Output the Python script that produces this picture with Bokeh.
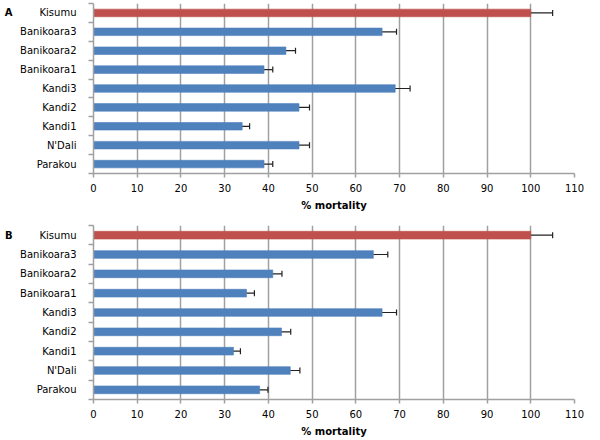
from bokeh.plotting import figure
from bokeh.layouts import column
from bokeh.models import Range1d, FixedTicker, Whisker, ColumnDataSource, LinearAxis
from bokeh.embed import file_html
from bokeh.resources import INLINE

# categories from bottom to top
sites = ["Parakou", "N'Dali", "Kandi1", "Kandi2", "Kandi3",
         "Banikoara1", "Banikoara2", "Banikoara3", "Kisumu"]

# Panel A
mort_a = [39, 47, 34, 47, 69, 39, 44, 66, 100]
err_a = [2.0, 2.4, 1.7, 2.4, 3.4, 2.0, 2.2, 3.3, 5.0]
# Panel B
mort_b = [38, 45, 32, 43, 66, 35, 41, 64, 100]
err_b = [1.9, 2.2, 1.6, 2.1, 3.3, 1.8, 2.1, 3.3, 5.0]

x_ticks = list(range(0, 111, 10))
BLUE = "#4f81bd"
RED = "#c0504d"
GRID = "#a0a0a0"
FONT = "DejaVu Sans"


def make_panel(letter, vals, errs, height, border_top, border_bottom, border_right):
    n = len(sites)
    idx = list(range(n))
    colors = [RED if s == "Kisumu" else BLUE for s in sites]
    src = ColumnDataSource(dict(
        y=idx, v=vals, lo=[v - e for v, e in zip(vals, errs)],
        hi=[v + e for v, e in zip(vals, errs)], c=colors))

    p = figure(width=600, height=height, output_backend="svg", toolbar_location=None,
               x_range=Range1d(0, 110), y_range=Range1d(-0.5, n - 0.5),
               min_border_left=93, min_border_right=border_right,
               min_border_top=border_top, min_border_bottom=border_bottom)
    p.outline_line_color = None
    p.background_fill_color = "white"

    p.hbar(y="y", right="v", left=0, height=0.4, fill_color="c",
           line_color="c", line_alpha=0.6, source=src)
    w = Whisker(source=src, base="y", lower="lo", upper="hi",
                dimension="width", line_color="#222222", line_width=1.2)
    for h in (w.upper_head, w.lower_head):
        h.size = 6
        h.line_color = "#222222"
        h.line_width = 1.2
    p.add_layout(w)

    # x axis
    p.xaxis.ticker = FixedTicker(ticks=x_ticks)
    p.xaxis.axis_line_color = GRID
    p.xaxis.axis_line_width = 1.5
    p.xaxis.major_tick_line_color = GRID
    p.xaxis.major_tick_line_width = 1.5
    p.xaxis.major_tick_out = 4
    p.xaxis.major_tick_in = 0
    p.xaxis.minor_tick_line_color = None
    p.xaxis.major_label_text_font = FONT
    p.xaxis.major_label_text_font_size = "10px"
    p.xaxis.major_label_text_color = "black"
    p.xaxis.major_label_standoff = 6
    p.xaxis.axis_label = "% mortality"
    p.xaxis.axis_label_text_font = FONT
    p.xaxis.axis_label_text_font_style = "bold"
    p.xaxis.axis_label_text_font_size = "10px"
    p.xaxis.axis_label_text_color = "black"
    p.xaxis.axis_label_standoff = 5

    # y axis: labels at centers, ticks at boundaries
    p.yaxis.ticker = FixedTicker(ticks=idx, minor_ticks=[i - 0.5 for i in range(n + 1)])
    p.yaxis.major_label_overrides = {i: s for i, s in enumerate(sites)}
    p.yaxis.major_tick_line_color = None
    p.yaxis.major_tick_out = 0
    p.yaxis.major_tick_in = 0
    p.yaxis.minor_tick_line_color = GRID
    p.yaxis.minor_tick_line_width = 1.5
    p.yaxis.minor_tick_out = 5
    p.yaxis.minor_tick_in = 0
    p.yaxis.axis_line_color = GRID
    p.yaxis.axis_line_width = 1.5
    p.yaxis.major_label_text_font = FONT
    p.yaxis.major_label_text_font_size = "10px"
    p.yaxis.major_label_text_color = "black"
    p.yaxis.major_label_standoff = 12

    # panel letter as an extra, outer left axis
    la = LinearAxis(ticker=FixedTicker(ticks=[n - 1]),
                    major_label_overrides={n - 1: letter},
                    axis_line_color=None, major_tick_line_color=None,
                    minor_tick_line_color=None, major_tick_out=0, major_tick_in=0,
                    major_label_standoff=5,
                    major_label_text_font=FONT, major_label_text_font_style="bold",
                    major_label_text_font_size="10px", major_label_text_color="black")
    p.add_layout(la, "left")

    p.xgrid.ticker = FixedTicker(ticks=x_ticks[1:])
    p.xgrid.grid_line_color = GRID
    p.xgrid.grid_line_width = 1.5
    p.ygrid.grid_line_color = None
    return p


pa = make_panel("A", mort_a, err_a, 220, 3, 47, 26)
pb = make_panel("B", mort_b, err_b, 220, 5, 41, 22)

layout = column(pa, pb)
open("out.html", "w").write(file_html(layout, INLINE))
